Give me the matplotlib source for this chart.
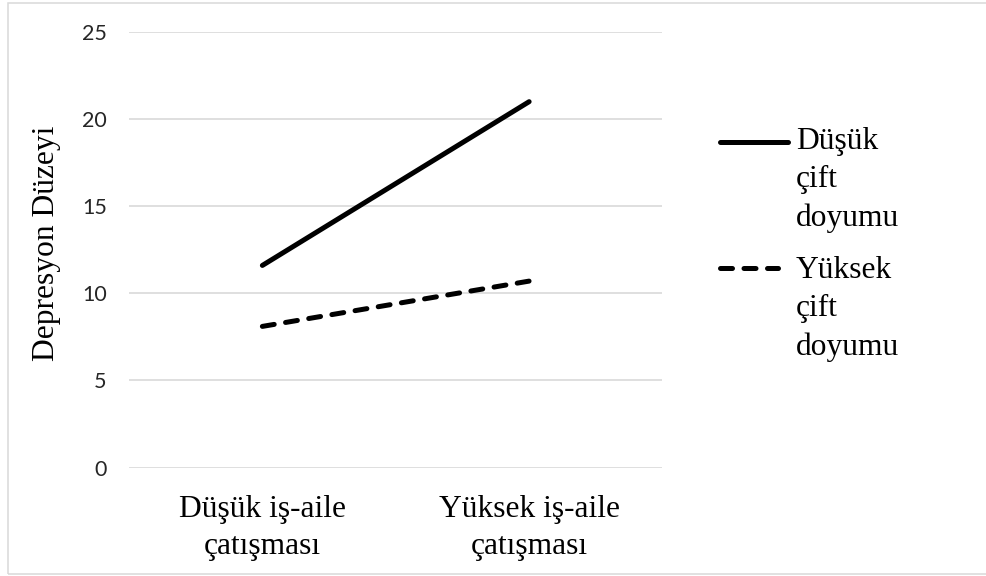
import matplotlib
matplotlib.use("Agg")
import matplotlib.pyplot as plt
from matplotlib.lines import Line2D
from matplotlib.patches import Rectangle

# Datos del gráfico
categorias = ["Düşük iş-aile\nçatışması", "Yüksek iş-aile\nçatışması"]
dusuk_doyum = [11.6, 21.0]
yuksek_doyum = [8.1, 10.7]
etiquetas = ["Düşük\nçift\ndoyumu", "Yüksek\nçift\ndoyumu"]
y_ticks = [0, 5, 10, 15, 20, 25]

W, H = 987, 576
fig = plt.figure(figsize=(W / 100, H / 100), dpi=100)
ax = fig.add_axes([129 / W, (H - 467.5) / H, (662.5 - 129) / W, (467.5 - 32) / H])

serif = "Liberation Serif"
lw = 3.6
guiones = (0, (2.4, 2.3))

x = list(range(len(categorias)))
ax.plot(x, dusuk_doyum, color="black", lw=lw, solid_capstyle="round")
ax.plot(x, yuksek_doyum, color="black", lw=lw, linestyle=guiones, dash_capstyle="round")

ax.set_xlim(-0.5, 1.5)
ax.set_ylim(0, 25)
ax.set_yticks(y_ticks)
ax.set_yticklabels([str(v) for v in y_ticks], family="Lato", fontsize=15.5, color="#262626")
ax.set_xticks(x)
ax.set_xticklabels(categorias, family=serif, fontsize=22.7, linespacing=1.4)
ax.tick_params(axis="y", length=0, pad=16)
ax.tick_params(axis="x", length=0, pad=19.5)

# Rejilla horizontal gris claro, sin bordes
ax.grid(axis="y", color="#D9D9D9", lw=1.2)
ax.set_axisbelow(True)
for s in ax.spines.values():
    s.set_visible(False)

fig.text(47 / W, 1 - 243 / H, "Depresyon Düzeyi", rotation=90, ha="center", va="center",
         family=serif, fontsize=22.7)

# Leyenda dibujada a mano (la línea alineada con la primera fila del texto)
estilos = [dict(linestyle="-", solid_capstyle="round"),
           dict(linestyle=guiones, dash_capstyle="round")]
posiciones = [(142, 127.5, 788), (268, 256.5, 778)]
for etiqueta, estilo, (y_linea, y_top, x_fin) in zip(etiquetas, estilos, posiciones):
    fig.add_artist(Line2D([720 / W, x_fin / W], [1 - y_linea / H, 1 - y_linea / H],
                          color="black", lw=lw, transform=fig.transFigure, **estilo))
    fig.text(796 / W, 1 - y_top / H, etiqueta, ha="left", va="top",
             family=serif, fontsize=22.7, linespacing=1.4)

# Marco exterior del gráfico
fig.add_artist(Rectangle((8 / W, 2 / H), 1.0, (H - 5) / H, transform=fig.transFigure,
                         fill=False, edgecolor="#D9D9D9", lw=1.1))

fig.savefig("out.png", dpi=100)
